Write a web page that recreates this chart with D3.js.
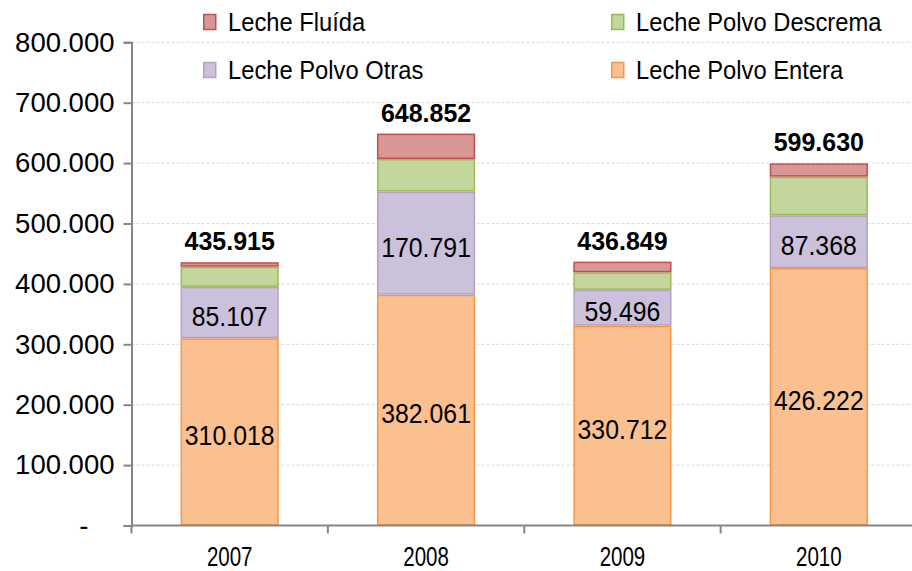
<!DOCTYPE html>
<html>
<head>
<meta charset="utf-8">
<script src="https://cdn.jsdelivr.net/npm/d3@7"></script>
<style>
  html, body { margin: 0; padding: 0; background: #fff; }
  svg { display: block; }
  text { font-family: "Liberation Sans", Arial, sans-serif; fill: #000; }
</style>
</head>
<body>
<svg id="chart" width="912" height="571"></svg>
<script>
// Milk exports by product, stacked per year
const years = ["2007", "2008", "2009", "2010"];
const seriesNames = ["Leche Polvo Entera", "Leche Polvo Otras", "Leche Polvo Descrema", "Leche Fluída"];
const entera   = [310018, 382061, 330712, 426222];
const otras    = [85107, 170791, 59496, 87368];
const descrema = [33400, 54000, 29000, 64000];
const fluida   = [7390, 42000, 17641, 22040];
const yTicks   = [0, 100000, 200000, 300000, 400000, 500000, 600000, 700000, 800000];

const fills   = ["#FAC090", "#CCC1DA", "#C3D69B", "#D99694"];
const strokes = ["#F79646", "#B3A2C7", "#9BBB59", "#C0504D"];

const locale = d3.formatLocale({ decimal: ",", thousands: ".", grouping: [3], currency: ["", ""] });
const fmt = locale.format(",d");

const rows = years.map((yr, i) => ({
  year: yr,
  "Leche Polvo Entera": entera[i],
  "Leche Polvo Otras": otras[i],
  "Leche Polvo Descrema": descrema[i],
  "Leche Fluída": fluida[i]
}));
const stacked = d3.stack().keys(seriesNames)(rows);

const svg = d3.select("#chart");
const plotLeft = 131.5, plotRight = 917, plotTop = 42.3, plotBottom = 525.5;

const y = d3.scaleLinear().domain([0, 800000]).range([plotBottom, plotTop]);
const xBand = d3.scaleBand().domain(years).range([plotLeft, plotRight]).paddingInner(0.5).paddingOuter(0.25);
const xCat = d3.scaleBand().domain(years).range([plotLeft, plotRight]).padding(0);

// condensed text: position by transform, squeeze horizontally
const place = (sx, fx, fy) => d => `translate(${fx(d)},${fy(d)}) scale(${sx},1)`;

// dotted gridlines
svg.append("g").selectAll("line")
  .data(yTicks.filter(d => d > 0))
  .join("line")
  .attr("x1", plotLeft).attr("x2", 912)
  .attr("y1", d => y(d)).attr("y2", d => y(d))
  .attr("stroke", "#D9D9D9").attr("stroke-width", 1)
  .attr("stroke-dasharray", "3,2");

// stacked bars
const layers = svg.append("g").selectAll("g")
  .data(stacked)
  .join("g")
  .attr("fill", (d, i) => fills[i])
  .attr("stroke", (d, i) => strokes[i]);

layers.selectAll("rect")
  .data(d => d)
  .join("rect")
  .attr("x", d => xBand(d.data.year) + 0.75)
  .attr("width", xBand.bandwidth() - 1.5)
  .attr("y", d => y(d[1]) + 0.75)
  .attr("height", d => Math.max(0, y(d[0]) - y(d[1]) - 1.5))
  .attr("stroke-width", 1.5);

// value labels on the two bottom segments
stacked.slice(0, 2).forEach(layer => {
  svg.append("g").selectAll("text")
    .data(layer)
    .join("text")
    .attr("transform", place(0.92,
      d => xBand(d.data.year) + xBand.bandwidth() / 2,
      d => (y(d[0]) + y(d[1])) / 2 + 4))
    .attr("text-anchor", "middle")
    .attr("dominant-baseline", "central")
    .attr("font-size", 27)
    .text(d => fmt(d[1] - d[0]));
});

// totals above each bar
const topLayer = stacked[stacked.length - 1];
svg.append("g").selectAll("text")
  .data(topLayer)
  .join("text")
  .attr("transform", place(0.96,
    d => xBand(d.data.year) + xBand.bandwidth() / 2,
    d => y(d[1]) - 12))
  .attr("text-anchor", "middle")
  .attr("font-size", 26)
  .attr("font-weight", "bold")
  .text(d => fmt(d[1]));

// y axis
const yAxis = d3.axisLeft(y).tickValues(yTicks).tickSize(8).tickPadding(9)
  .tickFormat(d => d === 0 ? "-" : fmt(d));
const gy = svg.append("g").attr("transform", `translate(${plotLeft},0)`).call(yAxis);
gy.select(".domain").attr("stroke", "#868686").attr("stroke-width", 2);
gy.selectAll(".tick line").attr("stroke", "#868686").attr("stroke-width", 2);
gy.selectAll(".tick text").attr("font-size", 27.5).attr("fill", "#000")
  .attr("font-family", "Liberation Sans, Arial, sans-serif");
gy.selectAll(".tick").filter(d => d === 0).select("text").attr("dx", -26);

// x axis with boundary ticks between categories
const gx = svg.append("g").attr("transform", `translate(0,${plotBottom})`);
gx.append("line").attr("x1", plotLeft - 1).attr("x2", 912).attr("y1", 0).attr("y2", 0)
  .attr("stroke", "#868686").attr("stroke-width", 2);
gx.selectAll(".bt")
  .data(years)
  .join("line")
  .attr("class", "bt")
  .attr("x1", d => xCat(d)).attr("x2", d => xCat(d))
  .attr("y1", 0).attr("y2", 8)
  .attr("stroke", "#868686").attr("stroke-width", 2);
gx.selectAll(".xl")
  .data(years)
  .join("text")
  .attr("class", "xl")
  .attr("transform", place(0.76, d => xCat(d) + xCat.bandwidth() / 2, () => 40))
  .attr("text-anchor", "middle")
  .attr("font-size", 27)
  .text(d => d);

// legend, two columns
const legendItems = [
  { name: "Leche Fluída", idx: 3, col: 0, row: 0 },
  { name: "Leche Polvo Descrema", idx: 2, col: 1, row: 0 },
  { name: "Leche Polvo Otras", idx: 1, col: 0, row: 1 },
  { name: "Leche Polvo Entera", idx: 0, col: 1, row: 1 }
];
const lg = svg.append("g").selectAll("g")
  .data(legendItems)
  .join("g")
  .attr("transform", d => `translate(${203 + d.col * 408},${22 + d.row * 48})`);
lg.append("rect")
  .attr("x", 0.75).attr("y", -7.5).attr("width", 12).attr("height", 15)
  .attr("fill", d => fills[d.idx]).attr("stroke", d => strokes[d.idx]).attr("stroke-width", 1.5);
lg.append("text")
  .attr("transform", "translate(25,0) scale(0.95,1)")
  .attr("dominant-baseline", "central")
  .attr("font-size", 25)
  .text(d => d.name);
</script>
</body>
</html>
